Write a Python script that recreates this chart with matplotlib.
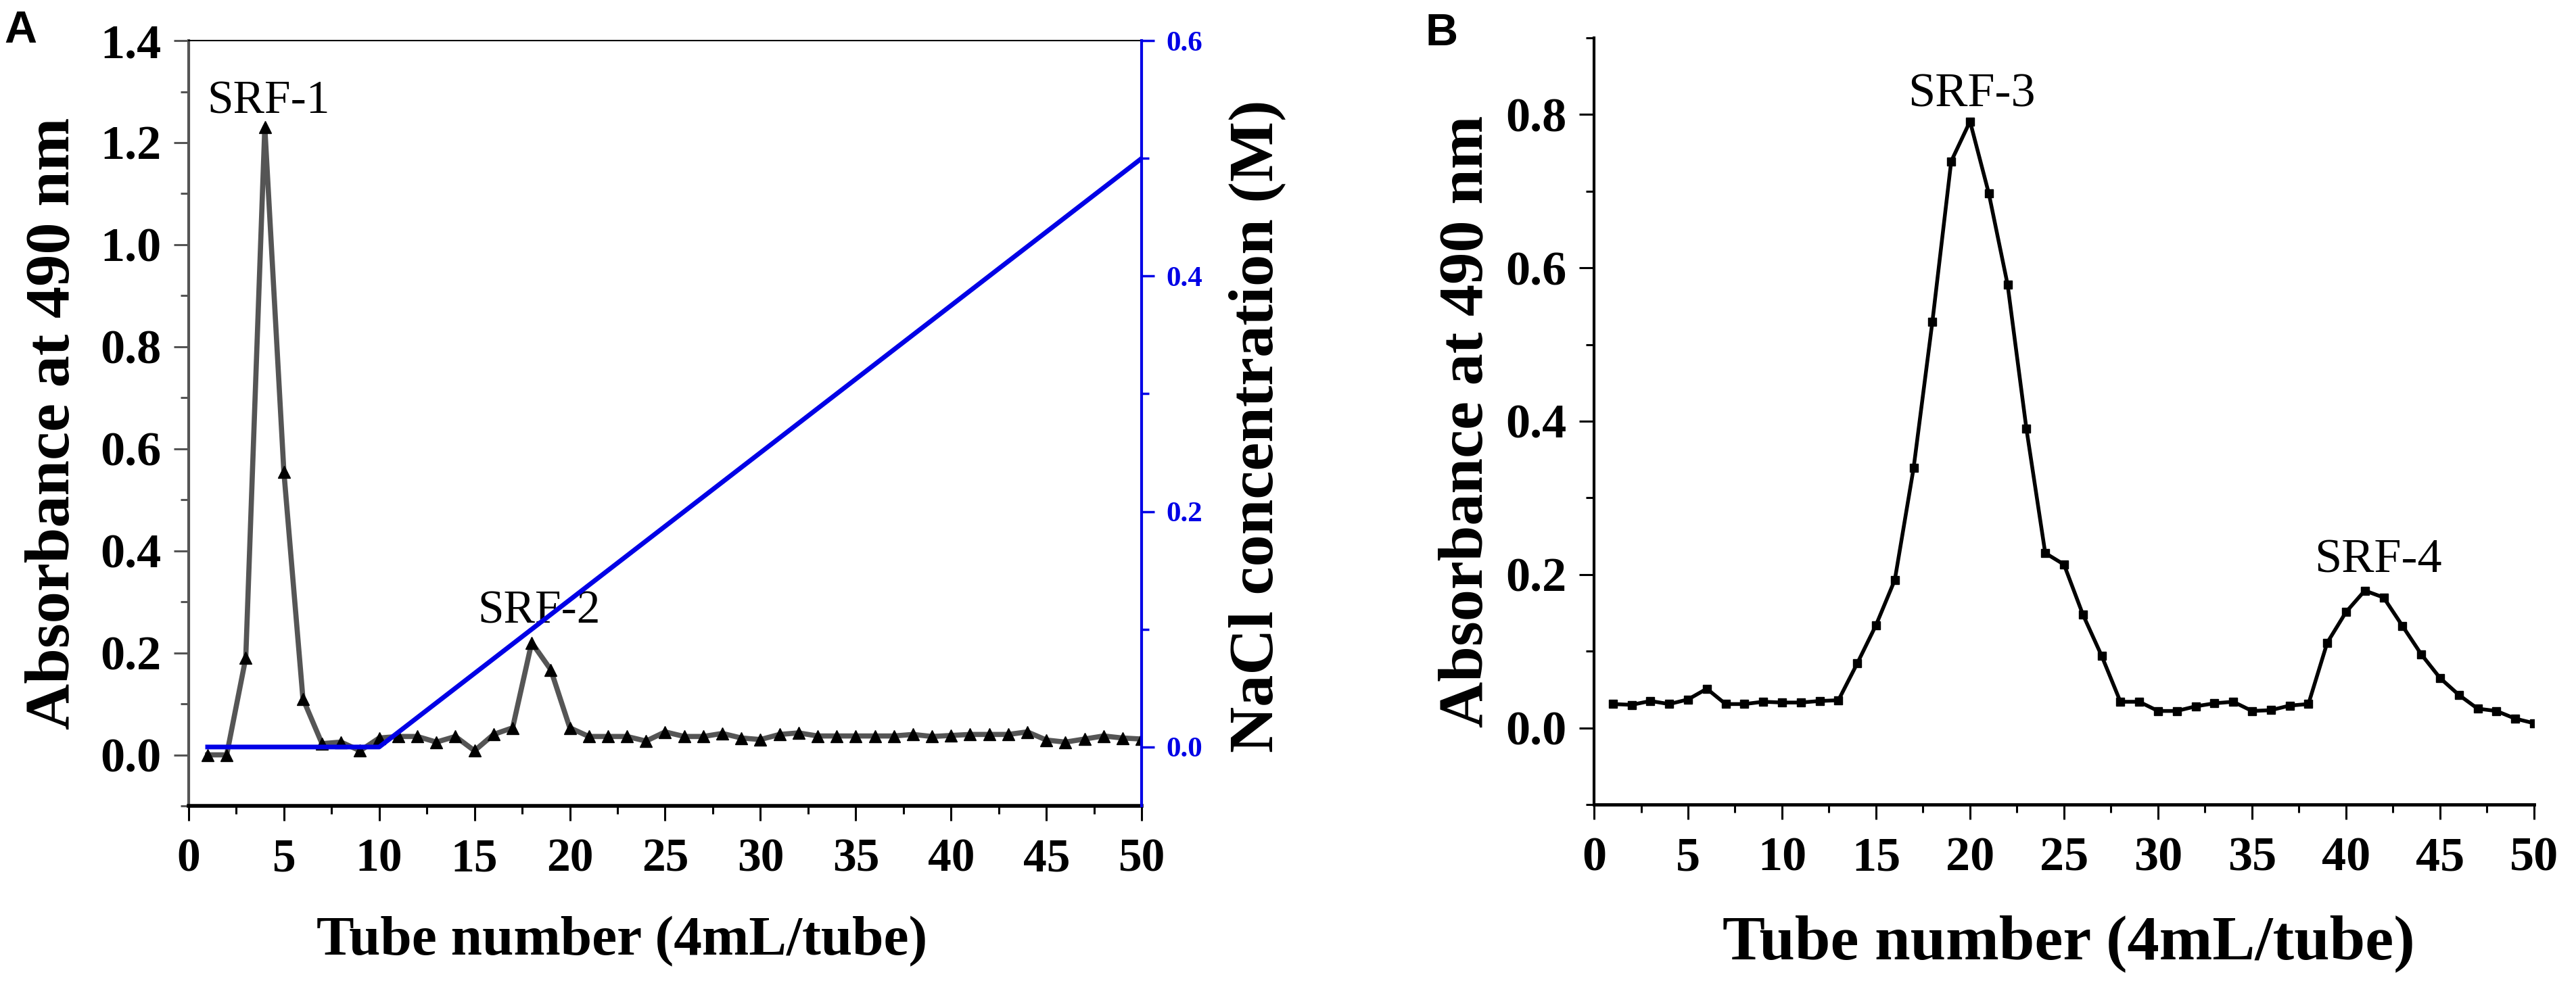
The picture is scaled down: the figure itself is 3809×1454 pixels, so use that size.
import matplotlib
matplotlib.use("Agg")
import matplotlib.pyplot as plt
from matplotlib.ticker import MultipleLocator, FormatStrFormatter

plt.rcParams["font.family"] = ["Liberation Serif", "DejaVu Serif"]

# Panel A: DEAE elution, absorbance at 490 nm and NaCl gradient
tubes_a = list(range(1, 51))
abs_a = [0.0, 0.0, 0.19, 1.23, 0.555, 0.11, 0.022, 0.025, 0.008, 0.033,
         0.036, 0.036, 0.025, 0.036, 0.008, 0.04, 0.053, 0.22, 0.167, 0.053,
         0.036, 0.036, 0.036, 0.027, 0.045, 0.036, 0.036, 0.042, 0.033, 0.03,
         0.04, 0.043, 0.037, 0.037, 0.037, 0.037, 0.037, 0.04, 0.036, 0.038,
         0.04, 0.04, 0.04, 0.045, 0.029, 0.025, 0.031, 0.037, 0.033, 0.031]
nacl_tubes = [1, 10, 50]
nacl_conc = [0.0, 0.0, 0.5]

# Panel B: second column elution
tubes_b = list(range(1, 51))
abs_b = [0.031, 0.030, 0.035, 0.031, 0.037, 0.051, 0.031, 0.031, 0.034, 0.033,
         0.033, 0.035, 0.036, 0.084, 0.134, 0.193, 0.339, 0.530, 0.739, 0.791,
         0.697, 0.578, 0.390, 0.228, 0.213, 0.148, 0.094, 0.034, 0.034, 0.022,
         0.022, 0.028, 0.032, 0.034, 0.022, 0.023, 0.029, 0.031, 0.111, 0.151,
         0.179, 0.170, 0.133, 0.096, 0.065, 0.043, 0.025, 0.022, 0.012, 0.006]

peaks_a = [("SRF-1", 4.2, 1.28), ("SRF-2", 18.4, 0.28)]
peaks_b = [("SRF-3", 20.1, 0.826), ("SRF-4", 41.7, 0.218)]

BLUE = "#0000e6"

fig = plt.figure(figsize=(38.09, 14.54), dpi=100)
axA = fig.add_axes([0.0732, 0.1802, 0.3700, 0.7785])
axB = fig.add_axes([0.6188, 0.1816, 0.3649, 0.7799])


def style_ticks(ax, xsize, ysize):
    ax.set_xlim(0, 50)
    ax.xaxis.set_major_locator(MultipleLocator(5))
    ax.xaxis.set_minor_locator(MultipleLocator(2.5))
    ax.yaxis.set_major_locator(MultipleLocator(0.2))
    ax.yaxis.set_minor_locator(MultipleLocator(0.1))
    ax.yaxis.set_major_formatter(FormatStrFormatter("%.1f"))
    ax.tick_params(which="major", length=16, width=2.2, direction="out")
    ax.tick_params(which="minor", length=8.5, width=2.2, direction="out")
    ax.tick_params(axis="x", pad=18)
    ax.tick_params(axis="y", pad=13)
    for lab in ax.get_xticklabels():
        lab.set_fontsize(xsize)
        lab.set_fontweight("bold")
    for lab in ax.get_yticklabels():
        lab.set_fontsize(ysize)
        lab.set_fontweight("bold")


# ---- panel A ----
axA.plot(tubes_a, abs_a, color="#555555", lw=5.5, marker="^", ms=13,
         mfc="black", mec="black", zorder=3)
axA.set_ylim(-0.1, 1.4)
style_ticks(axA, 50, 52)
axA.spines["left"].set_color("#555555")
axA.spines["left"].set_linewidth(3)
axA.spines["bottom"].set_linewidth(4)
axA.spines["top"].set_linewidth(1.5)
axA.tick_params(axis="y", which="both", colors="#555555", labelcolor="black")
axA.set_xlabel("Tube number (4mL/tube)", fontsize=60, fontweight="bold")
axA.xaxis.set_label_coords(0.455, -0.144)
axA.set_ylabel("Absorbance at 490 nm", fontsize=68, fontweight="bold")
axA.yaxis.set_label_coords(-0.1114, 0.5)
for name, x, y in peaks_a:
    axA.text(x, y, name, fontsize=50, ha="center", va="center")

axA2 = axA.twinx()
axA2.plot(nacl_tubes, nacl_conc, color=BLUE, lw=5)
axA2.set_ylim(-0.05, 0.6)
axA2.yaxis.set_major_locator(MultipleLocator(0.2))
axA2.yaxis.set_minor_locator(MultipleLocator(0.1))
axA2.yaxis.set_major_formatter(FormatStrFormatter("%.1f"))
axA2.spines["right"].set_color(BLUE)
axA2.spines["right"].set_linewidth(3)
for side in ["left", "top", "bottom"]:
    axA2.spines[side].set_visible(False)
axA2.tick_params(axis="y", which="major", colors=BLUE, length=14, width=2.5, pad=12)
axA2.tick_params(axis="y", which="minor", colors=BLUE, length=8, width=2.5)
for lab in axA2.get_yticklabels():
    lab.set_fontsize(31)
    lab.set_fontweight("bold")
    lab.set_color(BLUE)
axA2.set_ylabel("NaCl concentration (M)", fontsize=68, fontweight="bold")
axA2.yaxis.set_label_coords(1.0908, 0.496)

# ---- panel B ----
axB.plot(tubes_b, abs_b, color="black", lw=4, marker="s", ms=9, zorder=3)
axB.set_ylim(-0.1, 0.9)
style_ticks(axB, 52, 52)
axB.spines["top"].set_visible(False)
axB.spines["right"].set_visible(False)
axB.spines["left"].set_linewidth(3)
axB.spines["bottom"].set_linewidth(3.5)
axB.set_xlabel("Tube number (4mL/tube)", fontsize=68, fontweight="bold")
axB.xaxis.set_label_coords(0.505, -0.144)
axB.set_ylabel("Absorbance at 490 nm", fontsize=68, fontweight="bold")
axB.yaxis.set_label_coords(-0.105, 0.5)
for name, x, y in peaks_b:
    axB.text(x, y, name, fontsize=52, ha="center", va="center")

fig.text(0.0016, 0.9897, "A", fontsize=48, fontweight="bold",
         family="Liberation Sans", ha="left", va="top")
fig.text(0.5532, 0.987, "B", fontsize=48, fontweight="bold",
         family="Liberation Sans", ha="left", va="top")

fig.savefig("out.png", dpi=100)
